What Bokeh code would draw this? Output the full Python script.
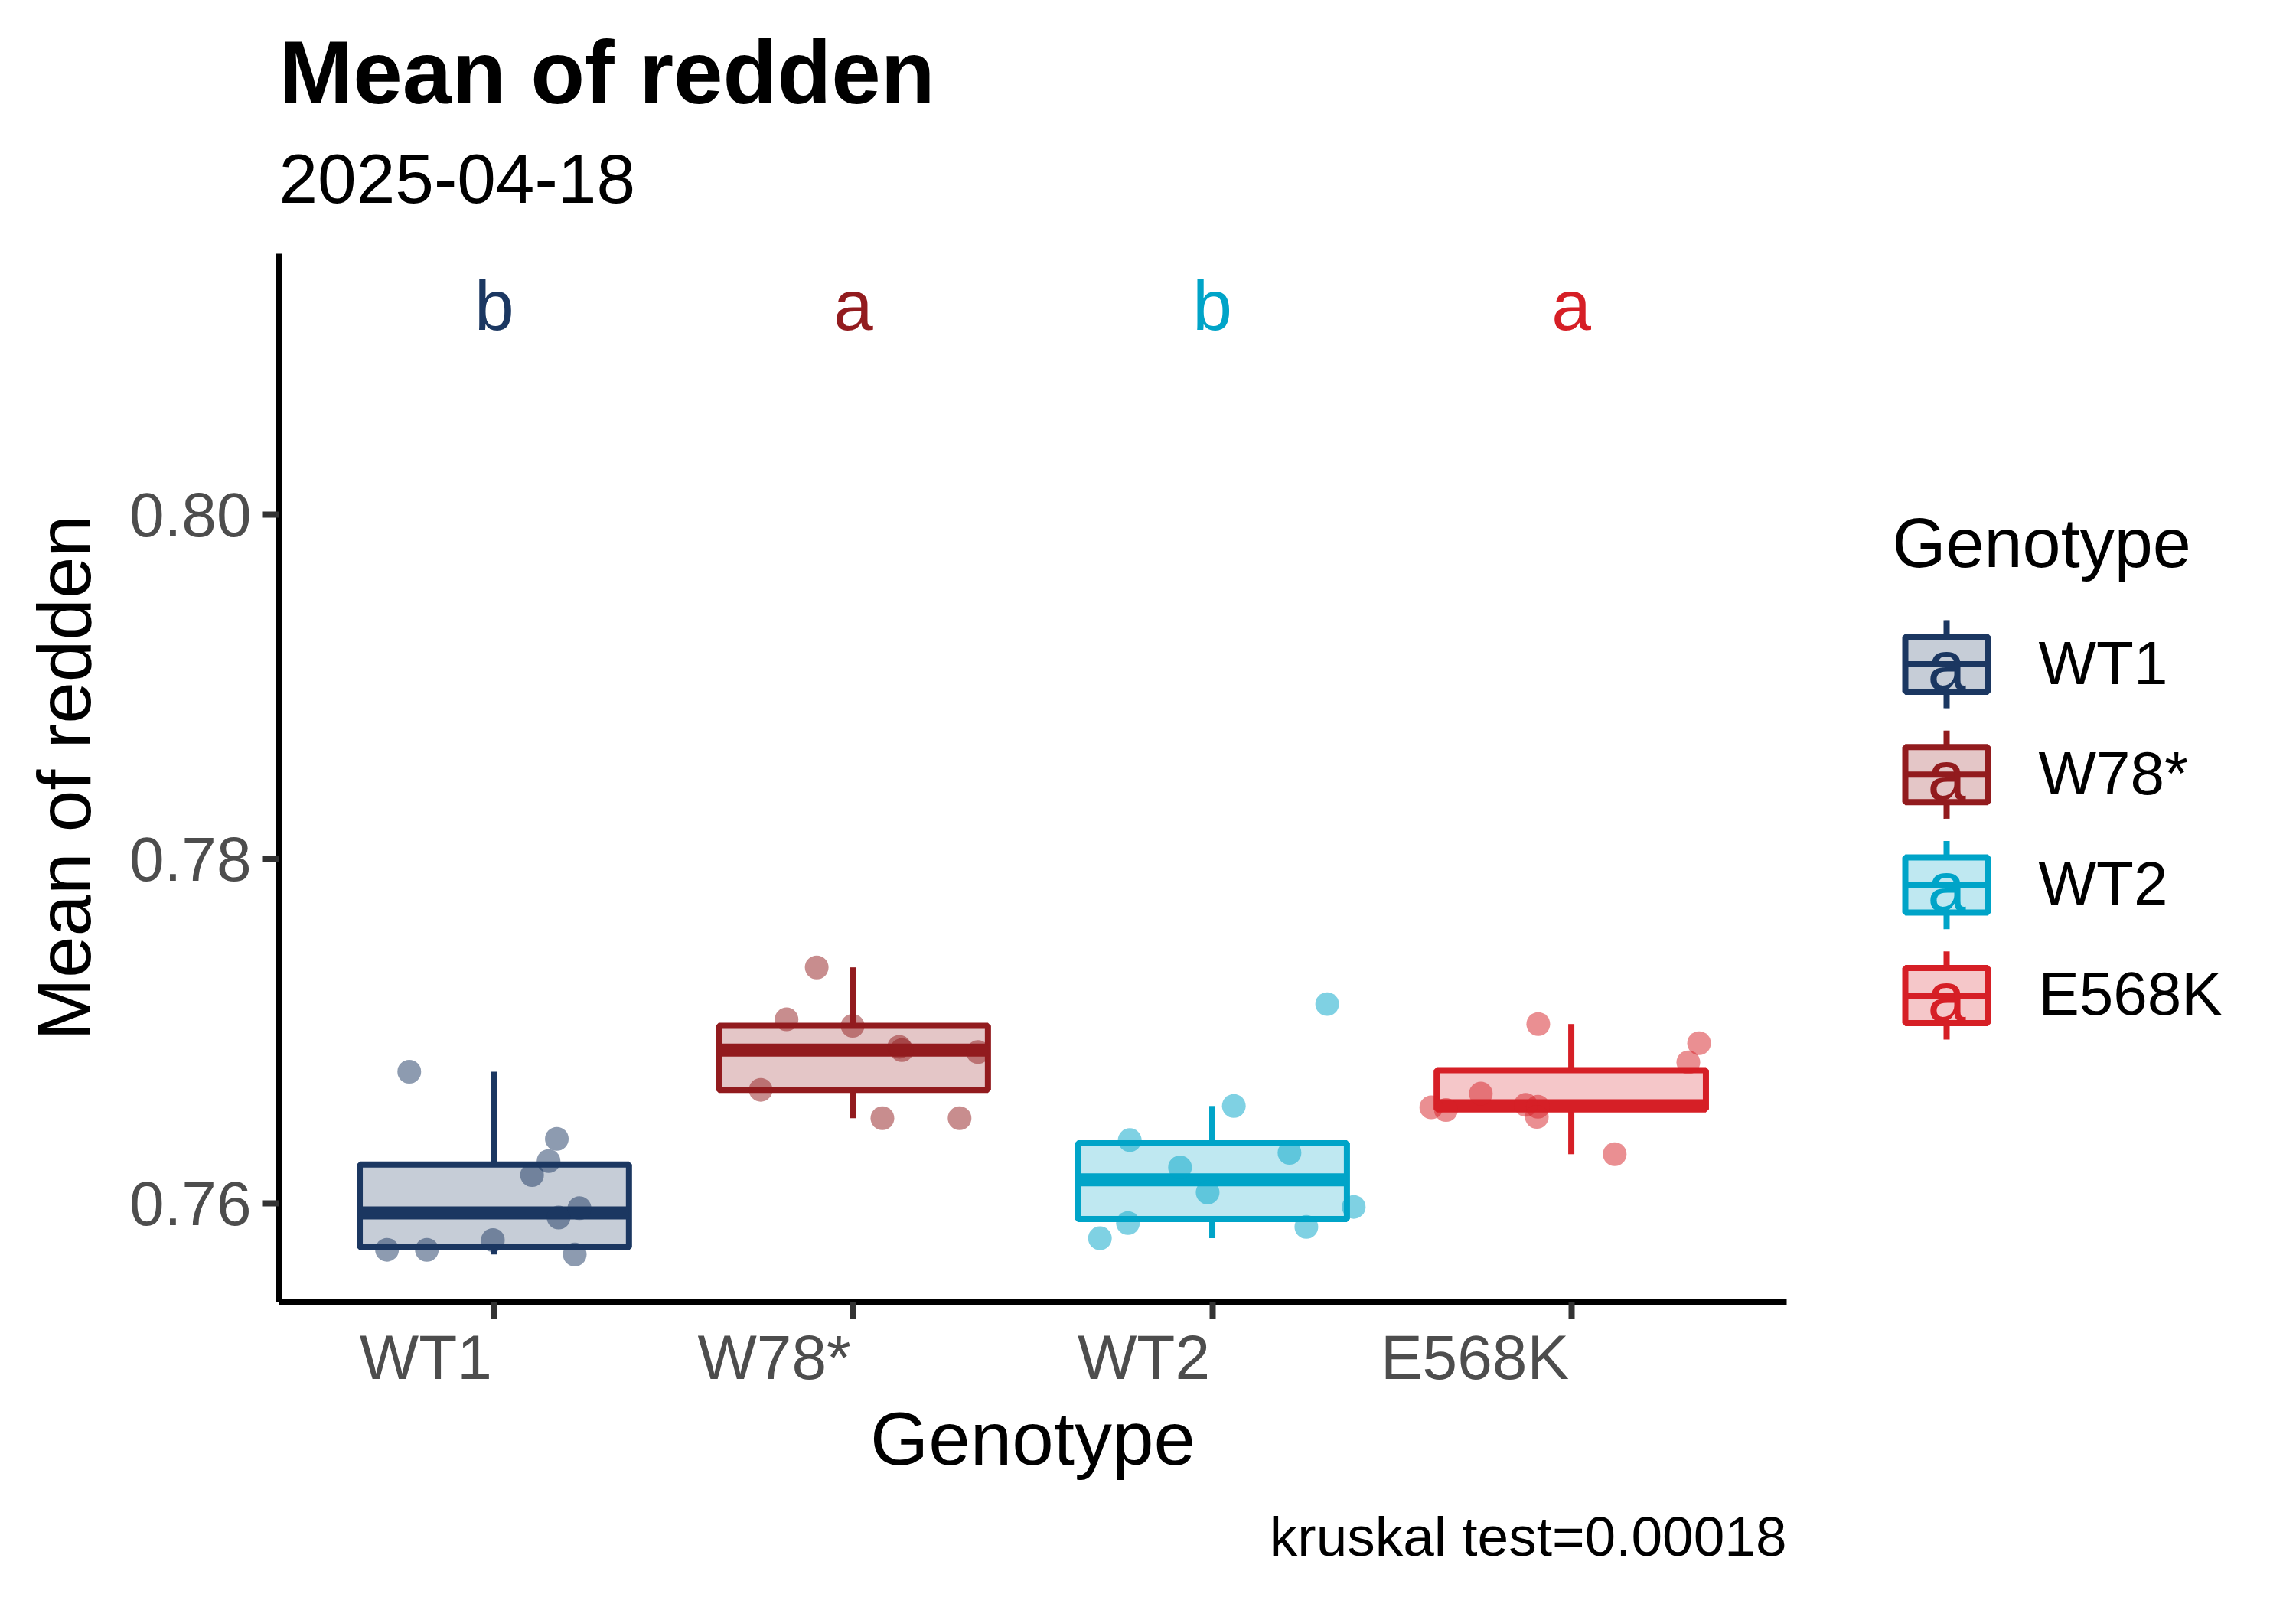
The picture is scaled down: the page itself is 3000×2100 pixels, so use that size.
import numpy as np
from bokeh.plotting import figure
from bokeh.models import (Range1d, FixedTicker, NumeralTickFormatter, Label, ColumnDataSource,
                          LinearAxis, Title)
from bokeh.layouts import row
from bokeh.core.properties import value
from bokeh.embed import file_html
from bokeh.resources import INLINE

# ---------------- data ----------------
categories = ["WT1", "W78*", "WT2", "E568K"]
colors = ["#1B3761", "#921B1E", "#00A4C8", "#D61F26"]
letters = ["b", "a", "b", "a"]

wt1_values = [0.76763, 0.75729, 0.75729, 0.75785, 0.76163, 0.76244, 0.76373, 0.75916, 0.75971, 0.75702]
wt1_jitter = [-0.237, -0.299, -0.188, -0.004, 0.105, 0.151, 0.174, 0.179, 0.237, 0.224]

w78_values = [0.77369, 0.77067, 0.77030, 0.76908, 0.76889, 0.76877, 0.76658, 0.76493, 0.76493]
w78_jitter = [-0.102, -0.186, -0.002, 0.128, 0.135, 0.347, -0.258, 0.081, 0.296]

wt2_values = [0.77156, 0.76564, 0.76366, 0.76208, 0.76292, 0.76062, 0.75978, 0.75884, 0.75862, 0.75796]
wt2_jitter = [0.320, 0.060, -0.230, -0.090, 0.215, -0.013, 0.394, -0.235, 0.262, -0.313]

e568k_values = [0.77040, 0.76929, 0.76818, 0.76636, 0.76556, 0.76541, 0.76571, 0.76560, 0.76501, 0.76284]
e568k_jitter = [-0.092, 0.356, 0.326, -0.252, -0.390, -0.349, -0.127, -0.093, -0.096, 0.121]

group_values = [wt1_values, w78_values, wt2_values, e568k_values]
group_jitter = [wt1_jitter, w78_jitter, wt2_jitter, e568k_jitter]

y_ticks = [0.76, 0.78, 0.80]
title_text = "Mean of redden"
subtitle_text = "2025-04-18"
caption_text = "kruskal test=0.00018"
x_title = "Genotype"
y_title = "Mean of redden"
legend_title = "Genotype"

# ---------------- layout constants ----------------
FONT = "Liberation Sans"
FRAME_L, FRAME_T, FRAME_W, FRAME_B = 364, 331, 1970, 1701
H = 2084
W_MAIN = FRAME_L + FRAME_W + 40
W_LEG = 2984 - W_MAIN
X_MIN, X_MAX = 0.4, 4.6
Y_MIN, Y_MAX = 0.754253, 0.815142
PX_PER_X = FRAME_W / (X_MAX - X_MIN)
BOX_W = 0.75
LETTER_Y = 0.81215
TICK_FONT = 82
# Arial / Liberation Sans advance widths (em) used to right-align the x tick labels
ADV = {"W": 0.944, "T": 0.611, "E": 0.667, "K": 0.667, "*": 0.389}

def text_width(s, size):
    return sum(ADV.get(ch, 0.556) for ch in s) * size

p = figure(width=W_MAIN, height=H, x_range=Range1d(X_MIN, X_MAX), y_range=Range1d(Y_MIN, Y_MAX),
           output_backend="svg", toolbar_location=None, title=None,
           min_border_left=FRAME_L, min_border_right=40, min_border_top=FRAME_T,
           min_border_bottom=H - FRAME_B)
p.outline_line_color = None
p.grid.visible = False
p.background_fill_color = "white"
p.border_fill_color = "white"

positions = list(range(1, len(categories) + 1))

# boxplot statistics (ggplot style)
q1s, meds, q3s, lows, highs = [], [], [], [], []
for vals in group_values:
    v = np.array(vals)
    q1, med, q3 = np.percentile(v, [25, 50, 75])
    iqr = q3 - q1
    hi = v[v <= q3 + 1.5 * iqr].max()
    lo = v[v >= q1 - 1.5 * iqr].min()
    q1s.append(q1); meds.append(med); q3s.append(q3); lows.append(lo); highs.append(hi)

box_src = ColumnDataSource(dict(
    x=positions, q1=q1s, q3=q3s, med=meds, lo=lows, hi=highs, color=colors,
    left=[x - BOX_W / 2 for x in positions], right=[x + BOX_W / 2 for x in positions]))

p.segment(x0="x", x1="x", y0="q3", y1="hi", line_color="color", line_width=8, source=box_src)
p.segment(x0="x", x1="x", y0="q1", y1="lo", line_color="color", line_width=8, source=box_src)
p.quad(left="left", right="right", bottom="q1", top="q3", fill_color="color", fill_alpha=0.25,
       line_color="color", line_width=8, source=box_src)
p.segment(x0="left", x1="right", y0="med", y1="med", line_color="color", line_width=17, source=box_src)

for i, (vals, jit) in enumerate(zip(group_values, group_jitter)):
    xs = [positions[i] + j for j in jit]
    p.scatter(x=xs, y=vals, size=31, fill_color=colors[i], fill_alpha=0.5, line_color=None)

let_src = ColumnDataSource(dict(x=positions, y=[LETTER_Y] * len(positions), t=letters, c=colors))
p.text(x="x", y="y", text="t", text_color="c", text_font=value(FONT), text_font_size="93px",
       text_align="center", text_baseline="alphabetic", source=let_src)

# ---------------- axes ----------------
def style_axis(ax):
    ax.axis_line_width = 8
    ax.axis_line_color = "black"
    ax.major_tick_line_width = 8
    ax.major_tick_line_color = "#333333"
    ax.major_tick_in = 0
    ax.major_tick_out = 22
    ax.minor_tick_line_color = None
    ax.major_label_text_font = FONT
    ax.major_label_text_font_size = f"{TICK_FONT}px"
    ax.major_label_text_color = "#4D4D4D"
    ax.axis_label_text_font = FONT
    ax.axis_label_text_font_size = "98px"
    ax.axis_label_text_font_style = "normal"
    ax.axis_label_text_color = "black"

style_axis(p.xaxis[0])
style_axis(p.yaxis[0])

# x axis: ticks at category positions (labels carried by a second axis, right-aligned to ticks)
p.xaxis.ticker = FixedTicker(ticks=positions)
p.xaxis.major_label_overrides = {pos: "" for pos in positions}
p.xaxis.major_label_text_font_size = "1px"
p.xaxis.major_label_standoff = 0

shifted = [round(pos - text_width(cat, TICK_FONT) / 2 / PX_PER_X - 3 / PX_PER_X, 5)
           for pos, cat in zip(positions, categories)]
lab_axis = LinearAxis(ticker=FixedTicker(ticks=shifted),
                      major_label_overrides={s: c for s, c in zip(shifted, categories)})
style_axis(lab_axis)
lab_axis.axis_line_color = None
lab_axis.major_tick_line_color = None
lab_axis.major_tick_out = 0
lab_axis.major_label_standoff = 4
lab_axis.axis_label = x_title
lab_axis.axis_label_standoff = 3
p.add_layout(lab_axis, "below")

p.yaxis.ticker = FixedTicker(ticks=y_ticks)
p.yaxis.formatter = NumeralTickFormatter(format="0.00")
p.yaxis.major_label_standoff = 14
p.yaxis.axis_label = y_title
p.yaxis.axis_label_standoff = 27

# ---------------- titles & caption ----------------
# thin spacer between the frame and the subtitle
p.add_layout(Title(text=" ", text_font=FONT, text_font_size="1px", standoff=25), "above")
p.add_layout(Title(text=subtitle_text, align="left", text_font=FONT, text_font_size="91px",
                   text_font_style="normal", text_color="black", standoff=77), "above")
p.add_layout(Title(text=title_text, align="left", text_font=FONT, text_font_size="116px",
                   text_font_style="bold", text_color="black", standoff=4), "above")
p.add_layout(Title(text=caption_text, align="right", text_font=FONT, text_font_size="73px",
                   text_font_style="normal", text_color="black", standoff=55), "below")

# ---------------- legend panel (frame aligned with the main frame; y = page pixels) ----------------
q = figure(width=W_LEG, height=H, x_range=Range1d(0, W_LEG), y_range=Range1d(FRAME_B, FRAME_T),
           output_backend="svg", toolbar_location=None, title=None,
           x_axis_location=None, y_axis_location=None,
           min_border=0, min_border_left=0, min_border_right=0)
q.outline_line_color = None
q.grid.visible = False

KEY_X = 169
KEY0_Y = 867.5
KEY_STEP = 144.3
KEY = 144.0
rows_y = [KEY0_Y + i * KEY_STEP for i in range(len(categories))]
leg_src = ColumnDataSource(dict(
    x=[KEY_X] * len(categories), y=rows_y, c=colors, t=categories, a=["a"] * len(categories),
    left=[KEY_X - 0.375 * KEY] * len(categories), right=[KEY_X + 0.375 * KEY] * len(categories),
    btop=[y - 0.25 * KEY for y in rows_y], bbot=[y + 0.25 * KEY for y in rows_y],
    wtop=[y - 0.4 * KEY for y in rows_y], wbot=[y + 0.4 * KEY for y in rows_y],
    ty=[y - 2 for y in rows_y], ay=[y + 2 for y in rows_y], tx=[289] * len(categories)))

q.segment(x0="x", x1="x", y0="wtop", y1="btop", line_color="c", line_width=8, source=leg_src)
q.segment(x0="x", x1="x", y0="bbot", y1="wbot", line_color="c", line_width=8, source=leg_src)
q.quad(left="left", right="right", top="btop", bottom="bbot", fill_color="c", fill_alpha=0.25,
       line_color="c", line_width=8, source=leg_src)
q.segment(x0="left", x1="right", y0="y", y1="y", line_color="c", line_width=8, source=leg_src)
q.text(x="x", y="ay", text="a", text_color="c", text_font=value(FONT), text_font_size="90px",
       text_align="center", text_baseline="alphabetic", source=leg_src)
q.text(x="tx", y="ty", text="t", text_color="black", text_font=value(FONT), text_font_size="80px",
       text_align="left", text_baseline="alphabetic", source=leg_src)
q.add_layout(Label(x=98, y=709, text=legend_title, text_font=FONT, text_font_size="90px",
                   text_baseline="alphabetic", text_align="left", text_color="black"))

layout = row(p, q)
open("out.html", "w").write(file_html(layout, INLINE))
